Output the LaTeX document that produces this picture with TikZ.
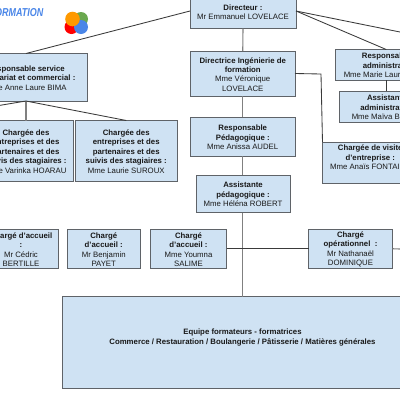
\documentclass[tikz,border=0pt]{standalone}
\usepackage{fontspec}
\setmainfont{Liberation Sans}
\definecolor{boxfill}{HTML}{CFE2F3}
\definecolor{boxline}{HTML}{5F6368}
\definecolor{connD}{HTML}{3A3A3A}
\definecolor{connG}{HTML}{808080}
\definecolor{wordblue}{HTML}{4A86E8}
\definecolor{logored}{HTML}{FF0000}
\definecolor{logogreen}{HTML}{6AA84F}
\definecolor{logoblue}{HTML}{4A86E8}
\definecolor{logoorange}{HTML}{FF9900}
\newcommand{\bx}[1]{\textbf{#1}}
\tikzset{
  x=1pt,y=-1pt,
  orgbox/.style={draw=boxline,fill=boxfill,line width=1pt,inner sep=0pt,outer sep=0pt},
  orgtext/.style={align=center,font=\fontsize{7.8}{9.4}\selectfont,text=black!90,inner sep=0pt},
  darkconn/.style={draw=connD,line width=0.85pt},
  grayconn/.style={draw=connG,line width=1.1pt},
}
\newcommand{\orgnode}[6]{% name, x0, y0, x1, y1, text
  \node[orgbox,minimum width={(#4-(#2))*1pt},minimum height={(#5-(#3))*1pt}] (#1) at ({(#2+#4)/2},{(#3+#5)/2}) {};
  \node[orgtext] (#1t) at ({(#2+#4)/2},{(#3+#5)/2+0.8}) {#6};
}
\begin{document}
\begin{tikzpicture}
\useasboundingbox (0,0) rectangle (400,400);
\clip (0,0) rectangle (400,400);
\fill[white] (0,0) rectangle (400,400);
% logo
\node[font=\bfseries\itshape\fontsize{11.5}{11.5}\selectfont,text=wordblue,anchor=east,inner sep=0pt,xscale=0.78,transform shape] (word) at (43.5,13) {FORMATION};
\fill[logored] (71.5,27) circle (7);
\fill[logogreen] (81,19) circle (7);
\fill[logoblue] (81,27) circle (7);
\fill[logoorange] (72.5,19) circle (7.3);
% free ends
\coordinate (j1) at (321,74);
\coordinate (outA) at (400,32);
\coordinate (outB) at (400,249);
\coordinate (dirL) at (190,11);
\coordinate (dirR) at (296,11);
\coordinate (svcL) at (-10,107);
% boxes
\orgnode{dir}{190}{-18}{296}{28.5}{\raisebox{0pt}{}\\[8pt]\bx{Directeur :}\\Mr Emmanuel LOVELACE}
\orgnode{ing}{190.5}{51}{295}{96}{\bx{Directrice Ingénierie de}\\\bx{formation}\\Mme Véronique\\LOVELACE}
\orgnode{ped}{190.5}{117}{295}{156}{\bx{Responsable}\\\bx{Pédagogique :}\\Mme Anissa AUDEL}
\orgnode{ass}{196}{175}{290}{212.5}{\bx{Assistante}\\\bx{pédagogique :}\\Mme Héléna ROBERT}
\orgnode{svc}{-35}{53.5}{87}{101}{\bx{Responsable service}\\\bx{secrétariat et commercial :}\\Mme Anne Laure BIMA}
\orgnode{ch1}{-21}{120.5}{73}{181}{\bx{Chargée des}\\\bx{entreprises et des}\\\bx{partenaires et des}\\\bx{suivis des stagiaires :}\\Mme Varinka HOARAU}
\orgnode{ch2}{75.5}{120.5}{177}{181}{\bx{Chargée des}\\\bx{entreprises et des}\\\bx{partenaires et des}\\\bx{suivis des stagiaires :}\\Mme Laurie SUROUX}
\orgnode{radm}{335.5}{49.5}{437}{80}{\bx{Responsable}\\\bx{administratif}\\\makebox[85pt][l]{Mme Marie Laure}}
\orgnode{aadm}{339.5}{91}{434}{122}{\bx{Assistante}\\\bx{administrative}\\\makebox[70pt][l]{Mme Maïva B}}
\orgnode{vis}{322.5}{142}{418}{183}{\bx{Chargée de visite}\\\bx{d’entreprise :}\\Mme Anaïs FONTAINE\\\strut}
\orgnode{acc1}{-16}{229}{58}{268.5}{\bx{Chargé d’accueil}\\\bx{:}\\Mr Cédric\\BERTILLE}
\orgnode{acc2}{67.5}{229}{140}{268.5}{\bx{Chargé}\\\bx{d’accueil :}\\Mr Benjamin\\PAYET}
\orgnode{acc3}{150.5}{229}{226.5}{268.5}{\bx{Chargé}\\\bx{d’accueil :}\\Mme Youmna\\SALIME}
\orgnode{oper}{308.5}{229}{392.5}{268.5}{\bx{Chargé}\\\bx{opérationnel~~:}\\Mr Nathanaël\\DOMINIQUE}
\orgnode{form}{62.5}{296.5}{460}{388}{}
\node[orgtext,font=\bfseries\fontsize{7.8}{9.4}\selectfont] (formtext) at (242.5,337.6) {Equipe formateurs - formatrices\\Commerce / Restauration / Boulangerie / Pâtisserie / Matières générales};
% links
\draw[darkconn] (dirL) -- (svc.north);
\draw[darkconn] (dirR) -- (radm.north);
\draw[darkconn] (dirR) -- (outA);
\draw[grayconn] (dir.south) -- (ing.north);
\draw[grayconn] (ing.south) -- (ped.north);
\draw[grayconn] (ped.south) -- (ass.north -| ped.south);
\draw[grayconn] (ass.south -| ped.south) -- (form.north -| ped.south);
\draw[darkconn] (ing.east) -- (j1) -- (vis.north west);
\draw[darkconn] (radm.south) -- (aadm.north -| radm.south);
\draw[grayconn] (svc.south) -- (ch1.north);
\draw[darkconn] (svc.south) -- (ch2.north);
\draw[darkconn] (svc.south) -- (svcL);
\draw[darkconn] (acc3.east) -- (oper.west);
\draw[grayconn] (oper.east) -- (outB);
\end{tikzpicture}
\end{document}
